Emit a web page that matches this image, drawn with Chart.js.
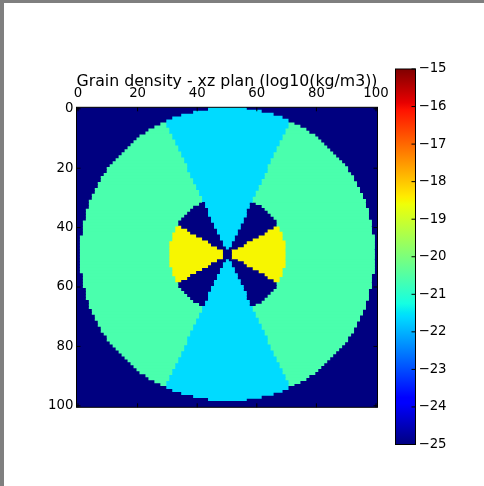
<!DOCTYPE html>
<html>
<head>
<meta charset="utf-8">
<script src="https://cdn.jsdelivr.net/npm/chart.js@4.4.1/dist/chart.umd.min.js"></script>
<style>
    html, body { margin: 0; padding: 0; background: #7f7f7f; }
    #page { position: absolute; left: 4px; top: 3px; right: 0; bottom: 0; background: #fff; }
    canvas { position: absolute; }
    #mapCanvas { left: 0; top: 0; }
    #barCanvas { left: 380px; top: 40px; }
</style>
</head>
<body>
<div id="page"></div>
<canvas id="mapCanvas" width="400" height="440"></canvas>
<canvas id="barCanvas" width="104" height="420"></canvas>
<script>
// --- data ---
// region levels, log10(kg/m3): background, disk, polar cone, equatorial core
const regionValues = [-25, -20.6, -21.6, -18.5];
const gridCols = 101;
const gridRows = 101;
const diskCentre = [50, 49];     // column, row
const diskRadius = 49.45;        // cells
const coreRadius = 19.5;         // cells
const holeRadius = 1.2;          // empty cells at the very centre
const coneHalfAngle = 25;        // degrees from the vertical axis
const wedgeHalfAngle = 30;       // degrees from the horizontal plane
const axisTicks = [0, 20, 40, 60, 80, 100];
const cbarTicks = [-25, -24, -23, -22, -21, -20, -19, -18, -17, -16, -15];
const titleText = 'Grain density - xz plan (log10(kg/m3))';

const FONT = 'DejaVu Sans';

// matplotlib "jet" colormap segments
const jetStops = {
    r: [[0, 0], [0.35, 0], [0.66, 1], [0.89, 1], [1, 0.5]],
    g: [[0, 0], [0.125, 0], [0.375, 1], [0.64, 1], [0.91, 0], [1, 0]],
    b: [[0, 0.5], [0.11, 1], [0.34, 1], [0.65, 0], [1, 0]]
};
const gradientStops = [0, 0.11, 0.125, 0.34, 0.35, 0.375, 0.64, 0.65, 0.66, 0.89, 0.91, 1];

function channel(stops, t) {
    for (let i = 1; i < stops.length; i++) {
        const [x0, y0] = stops[i - 1];
        const [x1, y1] = stops[i];
        if (t <= x1) return y0 + (y1 - y0) * (t - x0) / (x1 - x0);
    }
    return stops[stops.length - 1][1];
}
function jet(t) {
    t = Math.min(1, Math.max(0, t));
    const c = k => Math.round(255 * channel(jetStops[k], t));
    return `rgb(${c('r')},${c('g')},${c('b')})`;
}
const cMin = cbarTicks[0];
const cMax = cbarTicks[cbarTicks.length - 1];
const colourOf = v => jet((v - cMin) / (cMax - cMin));

// which region a cell belongs to
function regionAt(col, row) {
    const dx = col - diskCentre[0];
    const dy = row - diskCentre[1];
    const r = Math.hypot(dx, dy);
    if (r > diskRadius || r < holeRadius) return 0;
    const fromVertical = Math.atan2(Math.abs(dx), Math.abs(dy)) * 180 / Math.PI;
    if (fromVertical < coneHalfAngle) return 2;
    if (r < coreRadius) return (90 - fromVertical) < wedgeHalfAngle ? 3 : 0;
    return 1;
}

// each row becomes runs of equal cells, drawn as floating horizontal bars
const rowRuns = [];
for (let row = 0; row < gridRows; row++) {
    const runs = [];
    let start = 0;
    for (let col = 1; col <= gridCols; col++) {
        if (col === gridCols || regionAt(col, row) !== regionAt(start, row)) {
            runs.push({ x: [start - 0.5, col - 0.5], y: row, level: regionAt(start, row) });
            start = col;
        }
    }
    rowRuns.push(runs);
}
const maxRuns = Math.max(...rowRuns.map(r => r.length));
const datasets = [];
for (let k = 0; k < maxRuns; k++) {
    datasets.push({
        data: rowRuns.filter(r => r.length > k).map(r => r[k]),
        backgroundColor: (c) => c.raw ? colourOf(regionValues[c.raw.level]) : '#000',
        borderWidth: 0,
        barPercentage: 1,
        categoryPercentage: 1,
        inflateAmount: 0.4,
        grouped: false
    });
}

// black frame with inward ticks, like matplotlib axes
const frame = {
    id: 'frame',
    afterDatasetsDraw(chart, args, opts) {
        const { ctx, chartArea: a, scales } = chart;
        const len = opts.tickLength || 4;
        ctx.save();
        ctx.strokeStyle = '#000';
        ctx.lineWidth = 1;
        ctx.beginPath();
        if (opts.xTicks) {
            for (const v of opts.xTicks) {
                const px = scales.x.getPixelForValue(v);
                ctx.moveTo(px, a.top); ctx.lineTo(px, a.top + len);
                ctx.moveTo(px, a.bottom); ctx.lineTo(px, a.bottom - len);
            }
        }
        for (const v of opts.yTicks) {
            const py = scales.y.getPixelForValue(v);
            if (opts.leftTicks) { ctx.moveTo(a.left, py); ctx.lineTo(a.left + len, py); }
            ctx.moveTo(a.right, py); ctx.lineTo(a.right - len, py);
        }
        ctx.stroke();
        ctx.strokeRect(a.left, a.top, a.width, a.height);
        ctx.restore();
    }
};

const tickFont = { family: FONT, size: 13.3 };

new Chart(document.getElementById('mapCanvas'), {
    type: 'bar',
    data: { datasets: datasets },
    plugins: [frame],
    options: {
        indexAxis: 'y',
        responsive: false,
        animation: false,
        events: [],
        layout: { padding: { left: 40.5, right: 22.5, top: 67.3, bottom: 32.7 } },
        scales: {
            x: {
                type: 'linear',
                position: 'top',
                min: -0.5,
                max: 100.5,
                offset: false,
                afterBuildTicks: (s) => { s.ticks = axisTicks.map(v => ({ value: v })); },
                afterFit: (s) => { s.height = 40; },
                grid: { display: false, drawTicks: false, offset: false },
                border: { display: false },
                ticks: { font: tickFont, color: '#000', padding: 6, maxRotation: 0 },
                title: {
                    display: true,
                    text: titleText,
                    color: '#000',
                    font: { family: FONT, size: 16.2 },
                    padding: { top: 4.3, bottom: 0 }
                }
            },
            y: {
                type: 'linear',
                reverse: true,
                min: -0.5,
                max: 100.5,
                offset: false,
                afterBuildTicks: (s) => { s.ticks = axisTicks.map(v => ({ value: v })); },
                afterFit: (s) => { s.width = 36; },
                grid: { display: false, drawTicks: false, offset: false },
                border: { display: false },
                ticks: { font: tickFont, color: '#000', padding: 3 }
            }
        },
        plugins: {
            legend: { display: false },
            tooltip: { enabled: false },
            frame: { xTicks: axisTicks, yTicks: axisTicks, leftTicks: true, tickLength: 4 }
        }
    }
});

// colour bar
new Chart(document.getElementById('barCanvas'), {
    type: 'bar',
    data: {
        labels: [''],
        datasets: [{
            data: [[cMin, cMax]],
            backgroundColor: (c) => {
                const chart = c.chart;
                if (!chart.chartArea) return colourOf(cMin);
                const y0 = chart.scales.y.getPixelForValue(cMin);
                const y1 = chart.scales.y.getPixelForValue(cMax);
                const g = chart.ctx.createLinearGradient(0, y0, 0, y1);
                for (const s of gradientStops) g.addColorStop(s, jet(s));
                return g;
            },
            borderWidth: 0,
            barPercentage: 1,
            categoryPercentage: 1,
            inflateAmount: 0
        }]
    },
    plugins: [frame],
    options: {
        responsive: false,
        animation: false,
        events: [],
        layout: { padding: { left: 15.5, right: 28.5, top: 29, bottom: 15.5 } },
        scales: {
            x: { display: false },
            y: {
                position: 'right',
                min: cMin,
                max: cMax,
                afterBuildTicks: (s) => { s.ticks = cbarTicks.map(v => ({ value: v })); },
                afterFit: (s) => { s.width = 40; },
                grid: { display: false, drawTicks: false },
                border: { display: false },
                ticks: {
                    font: tickFont,
                    color: '#000',
                    padding: 3,
                    callback: (v) => (v < 0 ? '\u2212' : '') + Math.abs(v)
                }
            }
        },
        plugins: {
            legend: { display: false },
            tooltip: { enabled: false },
            frame: { yTicks: cbarTicks, leftTicks: false, tickLength: 4 }
        }
    }
});
</script>
</body>
</html>
